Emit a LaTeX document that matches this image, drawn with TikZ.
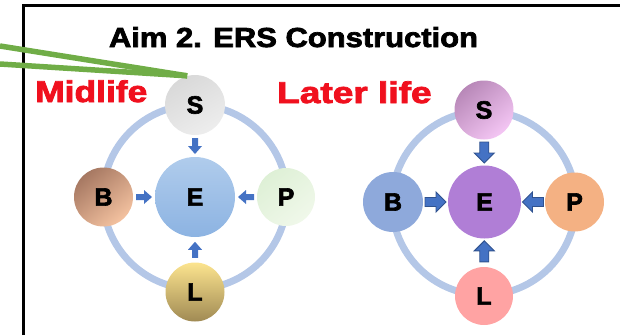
\documentclass[tikz,border=0pt]{standalone}
\usepackage{fontspec}
\setmainfont{Liberation Sans}
\newfontfamily\heavyfont{Liberation Sans Bold}[FakeBold=2.5]
\usetikzlibrary{calc}
\definecolor{ringc}{HTML}{B4C7E7}
\definecolor{greenl}{HTML}{70AD47}
\definecolor{redt}{HTML}{F0101E}
\definecolor{blkfill}{HTML}{4472C4}
\definecolor{blkline}{HTML}{2F528F}
\newcommand\smallblk[2]{\fill[blkfill, shift={(#1)}, rotate=#2] (-8,-3) -- (0,-3) -- (0,-7) -- (8,0) -- (0,7) -- (0,3) -- (-8,3) -- cycle;}
\newcommand\bigblk[2]{\filldraw[fill=blkfill, draw=blkline, line width=0.9pt, shift={(#1)}, rotate=#2] (-10.5,-4.5) -- (0.5,-4.5) -- (0.5,-10) -- (10.5,0) -- (0.5,10) -- (0.5,4.5) -- (-10.5,4.5) -- cycle;}
\begin{document}
\begin{tikzpicture}[x=1pt,y=-1pt,
  ring/.style={draw=ringc, line width=7pt},
  ball/.style={circle, inner sep=0pt, draw=none, font=\fontsize{25}{25}\selectfont\heavyfont},
  gline/.style={draw=greenl, line width=5.5pt}]
\useasboundingbox (0,0) rectangle (620,335);
% frame
\draw[line width=2.6pt] (23.5,335) -- (23.5,5.5) -- (620,5.5);
% title and labels
\node[anchor=base, inner sep=0pt, font=\fontsize{27.5}{27.5}\selectfont\heavyfont] (title) at (293.5,47) {\scalebox{1.125}[1]{Aim 2. ERS Construction}};
\node[anchor=base west, inner sep=0pt, text=redt, font=\fontsize{30}{30}\selectfont\heavyfont] (mid) at (35,102) {\scalebox{1.18}[1]{Midlife}};
\node[anchor=base west, inner sep=0pt, text=redt, font=\fontsize{30}{30}\selectfont\heavyfont] (late) at (277,103) {\scalebox{1.235}[1]{Later life}};
% rings
\coordinate (c1) at (195,197);
\coordinate (c2) at (484,203);
\draw[ring] (c1) circle[radius=92pt];
\draw[ring] (c2) circle[radius=92pt];
% left diagram
\node[ball, minimum size=60pt, top color=black!15, bottom color=black!7, shading angle=30] (S1) at (195,105) {S};
\node[ball, minimum size=80pt, top color={rgb,255:red,176;green,204;blue,236}, bottom color={rgb,255:red,140;green,179;blue,226}] (E1) at (195,197) {E};
\node[ball, minimum size=59pt, top color={rgb,255:red,166;green,120;blue,98}, bottom color={rgb,255:red,244;green,194;blue,160}, shading angle=40] (B1) at (103.5,197) {B};
\node[ball, minimum size=58pt, top color={rgb,255:red,222;green,240;blue,214}, bottom color={rgb,255:red,240;green,248;blue,234}, shading angle=40] (P1) at (286,197) {P};
\node[ball, minimum size=59pt, top color={rgb,255:red,252;green,228;blue,142}, bottom color={rgb,255:red,160;green,138;blue,84}] (L1) at (195,292) {L};
% right diagram
\node[ball, minimum size=59pt, top color={rgb,255:red,184;green,136;blue,184}, bottom color={rgb,255:red,244;green,198;blue,244}, shading angle=40] (S2) at (484,110) {S};
\node[ball, minimum size=73pt, fill={rgb,255:red,176;green,126;blue,214}] (E2) at (484.5,202) {E};
\node[ball, minimum size=60pt, fill={rgb,255:red,142;green,169;blue,219}] (B2) at (393,202) {B};
\node[ball, minimum size=59pt, fill={rgb,255:red,244;green,177;blue,131}] (P2) at (574.5,202) {P};
\node[ball, minimum size=58pt, fill={rgb,255:red,255;green,163;blue,163}] (L2) at (484,296) {L};
% arrow positions
\path (S1.south) -- (E1.north) coordinate[pos=.5] (aS1);
\path (B1.east) -- (E1.west) coordinate[pos=.5] (aB1);
\path (P1.west) -- (E1.east) coordinate[pos=.5] (aP1);
\path (L1.north) -- (E1.south) coordinate[pos=.5] (aL1);
\path (S2.south) -- (E2.north) coordinate[pos=.5] (aS2);
\path (B2.east) -- (E2.west) coordinate[pos=.5] (aB2);
\path (P2.west) -- (E2.east) coordinate[pos=.5] (aP2);
\path (L2.north) -- (E2.south) coordinate[pos=.55] (aL2);
\smallblk{aS1}{-90}
\smallblk{aB1}{0}
\smallblk{aP1}{180}
\smallblk{aL1}{90}
\bigblk{aS2}{-90}
\bigblk{aB2}{0}
\bigblk{aP2}{180}
\bigblk{aL2}{90}
% green pointer lines
\coordinate (g1) at (0,46);
\coordinate (g2) at (0,64);
\draw[gline] (g1) -- (S1.105);
\draw[gline] (g2) -- (S1.105);
\end{tikzpicture}
\end{document}
